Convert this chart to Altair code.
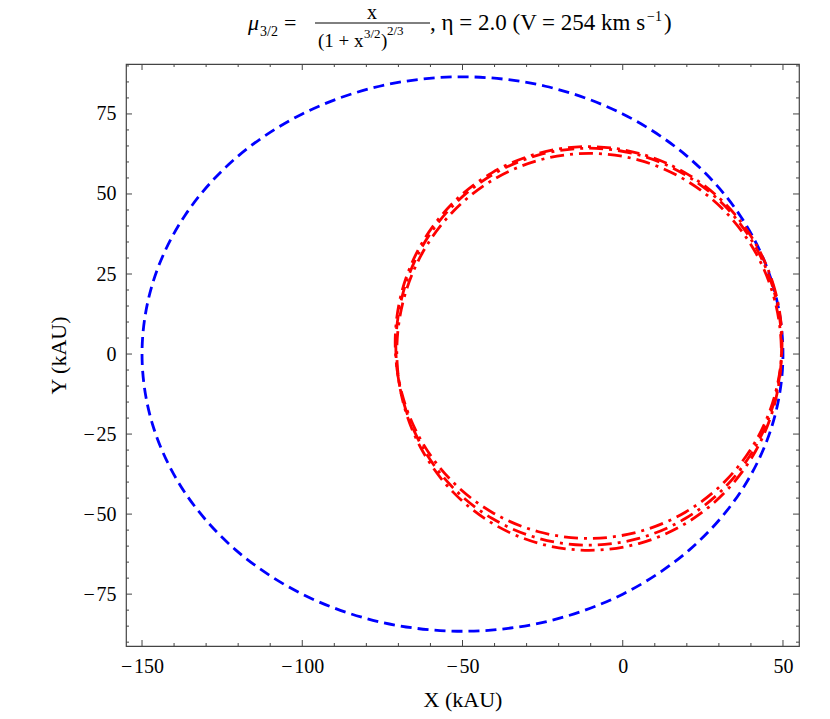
import altair as alt
import pandas as pd

# ---------------- data ----------------
# Newtonian orbit (blue dashed), kAU
newt_x = [50.00, 46.59, 36.60, 20.71, 0.00, -24.12, -50.00, -75.88, -100.00, -120.71, -136.60, -146.59,
          -150.00, -146.59, -136.60, -120.71, -100.00, -75.88, -50.00, -24.12, 0.00, 20.71, 36.60, 46.59]
newt_y = [0.00, 22.41, 43.30, 61.24, 75.00, 83.65, 86.60, 83.65, 75.00, 61.24, 43.30, 22.41,
          0.00, -22.41, -43.30, -61.24, -75.00, -83.65, -86.60, -83.65, -75.00, -61.24, -43.30, -22.41]

# MOND orbit, successive loops (red dash-dot), kAU
loopA_x = [49.70, 47.64, 41.61, 32.02, 19.53, 4.97, -10.65, -26.27, -40.83, -53.32, -62.91, -68.94,
           -71.00, -68.94, -62.91, -53.32, -40.83, -26.27, -10.65, 4.97, 19.53, 32.02, 41.61, 47.64]
loopA_y = [3.60, 19.44, 34.20, 46.87, 56.60, 62.71, 64.80, 62.71, 56.60, 46.87, 34.20, 19.44,
           3.60, -12.24, -27.00, -39.67, -49.40, -55.51, -57.60, -55.51, -49.40, -39.67, -27.00, -12.24]
loopB_x = [49.50, 47.45, 41.46, 31.93, 19.50, 5.03, -10.50, -26.03, -40.50, -52.93, -62.46, -68.45,
           -70.50, -68.45, -62.46, -52.93, -40.50, -26.03, -10.50, 5.03, 19.50, 31.93, 41.46, 47.45]
loopB_y = [0.70, 16.75, 31.70, 44.54, 54.39, 60.59, 62.70, 60.59, 54.39, 44.54, 31.70, 16.75,
           0.70, -15.35, -30.30, -43.14, -52.99, -59.19, -61.30, -59.19, -52.99, -43.14, -30.30, -15.35]
loopC_x = [49.60, 47.55, 41.53, 31.97, 19.50, 4.98, -10.60, -26.18, -40.70, -53.17, -62.73, -68.75,
           -70.80, -68.75, -62.73, -53.17, -40.70, -26.18, -10.60, 4.98, 19.50, 31.97, 41.53, 47.55]
loopC_y = [2.30, 18.35, 33.30, 46.14, 55.99, 62.19, 64.30, 62.19, 55.99, 46.14, 33.30, 18.35,
           2.30, -13.75, -28.70, -41.54, -51.39, -57.59, -59.70, -57.59, -51.39, -41.54, -28.70, -13.75]

x_major = [-150, -100, -50, 0, 50]
x_minor = [-140, -130, -120, -110, -90, -80, -70, -60, -40, -30, -20, -10, 10, 20, 30, 40]
y_major = [-75, -50, -25, 0, 25, 50, 75]
y_minor = [-90, -85, -80, -70, -65, -60, -55, -45, -40, -35, -30, -20, -15, -10, -5,
           5, 10, 15, 20, 30, 35, 40, 45, 55, 60, 65, 70, 80, 85, 90]
x_domain = [-155, 55]
y_domain = [-91.2, 90.6]

# ---------------- layout ----------------
W, H = 673, 582
SERIF = "Liberation Serif"
FRAME = "#444444"

xs = alt.Scale(domain=x_domain, nice=False, zero=False)
ys = alt.Scale(domain=y_domain, nice=False, zero=False)

# Mathematica-like labels: a minus sign followed by a hair space
LABEL_EXPR = "datum.value < 0 ? '\u2212\u200a' + format(-datum.value, 'd') : format(datum.value, 'd')"

x_axis = alt.Axis(title="X (kAU)", values=x_major, ticks=False, domain=False, grid=False,
                  labelFont=SERIF, labelFontSize=20, labelColor="black", labelPadding=10,
                  labelFlush=False, labelExpr=LABEL_EXPR,
                  titleFont=SERIF, titleFontSize=22, titleFontWeight="normal",
                  titleColor="black", titlePadding=13)
y_axis = alt.Axis(title="Y (kAU)", values=y_major, ticks=False, domain=False, grid=False,
                  labelFont=SERIF, labelFontSize=20, labelColor="black", labelPadding=10,
                  labelFlush=False, labelExpr=LABEL_EXPR,
                  titleFont=SERIF, titleFontSize=22, titleFontWeight="normal",
                  titleColor="black", titlePadding=13)

XE = dict(scale=xs, axis=x_axis)
YE = dict(scale=ys, axis=y_axis)


def curve(xv, yv, color, dash, offset):
    df = pd.DataFrame({"x": xv, "y": yv, "i": list(range(len(xv)))})
    return alt.Chart(df).mark_line(
        color=color, strokeWidth=2.8, strokeDash=dash, strokeDashOffset=offset,
        interpolate="cardinal-closed", strokeCap="butt"
    ).encode(
        x=alt.X("x:Q", **XE),
        y=alt.Y("y:Q", **YE),
        order="i:Q",
    )


def xticks(vals, y0, y1):
    return alt.Chart(pd.DataFrame({"x": vals})).mark_rule(color=FRAME, strokeWidth=1).encode(
        x=alt.X("x:Q", **XE), y=alt.value(y0), y2=alt.value(y1))


def yticks(vals, x0, x1):
    return alt.Chart(pd.DataFrame({"y": vals})).mark_rule(color=FRAME, strokeWidth=1).encode(
        y=alt.Y("y:Q", **YE), x=alt.value(x0), x2=alt.value(x1))


def txt(s, x, y, size=22, italic=False, align="left"):
    return alt.Chart(pd.DataFrame({"a": [0]})).mark_text(
        text=s, font=SERIF, fontSize=size, fontStyle="italic" if italic else "normal",
        align=align, baseline="alphabetic", color="black"
    ).encode(x=alt.value(x), y=alt.value(y))


blue = curve(newt_x, newt_y, "#0000ff", [11, 6], 0)
redA = curve(loopA_x, loopA_y, "#ff0000", [14, 6, 3, 6], 0)
redB = curve(loopB_x, loopB_y, "#ff0000", [14, 6, 3, 6], 10)
redC = curve(loopC_x, loopC_y, "#ff0000", [14, 6, 3, 6], 20)

ticks = [
    xticks(x_major, H, H - 6), xticks(x_minor, H, H - 3),
    xticks(x_major, 0, 6), xticks(x_minor, 0, 3),
    yticks(y_major, 0, 6), yticks(y_minor, 0, 3),
    yticks(y_major, W, W - 6), yticks(y_minor, W, W - 3),
]

frac_bar = alt.Chart(pd.DataFrame({"a": [0]})).mark_rule(color="black", strokeWidth=1).encode(
    x=alt.value(189), x2=alt.value(304), y=alt.value(-41))

# title pieces, positions relative to the plot area's top-left corner
title_parts = [
    txt("\u03bc", 122, -34, 22, italic=True),
    txt("3/2", 134, -28, 14),
    txt("=", 158, -34, 22),
    txt("x", 246, -45.5, 20, align="center"),
    frac_bar,
    txt("(1 + x", 192, -17, 19),
    txt("3/2", 238, -26, 13),
    txt(")", 255, -17, 19),
    txt("2/3", 261, -29, 13),
    txt(", \u03b7 = 2.0 (V = 254 km s", 304, -34, 23),
    txt("\u22121", 521, -43, 14),
    txt(")", 538, -34, 23),
]

chart = alt.layer(blue, redA, redB, redC, *ticks, *title_parts).properties(
    width=W, height=H,
    autosize=alt.AutoSizeParams(type="none"),
    padding={"left": 118, "top": 56, "right": 15, "bottom": 74},
).configure_view(stroke=FRAME, strokeWidth=1.2)

chart.save("out.html", embed_options={"renderer": "svg", "actions": False})
